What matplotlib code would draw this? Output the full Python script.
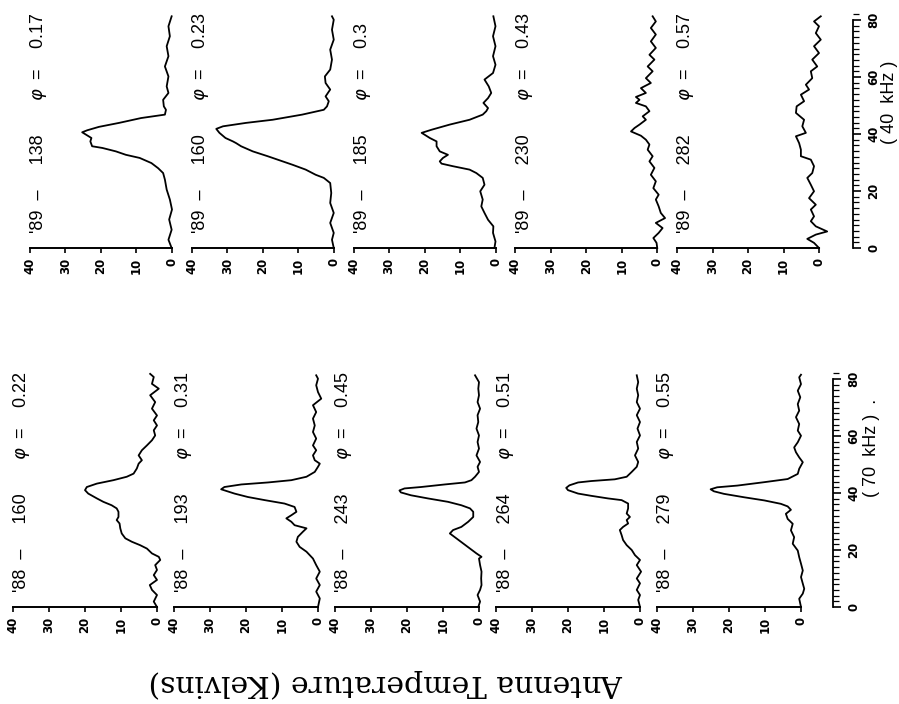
import matplotlib
matplotlib.use('Agg')
import matplotlib.pyplot as plt
from matplotlib.ticker import MultipleLocator

# ---- data: frequency (channel) vs antenna temperature (K) ----
# 1989 row (top)
f89_138 = [0, 2.9, 6.4, 10, 13.5, 17, 20.5, 24, 26.3, 28, 29.8, 31.6, 32.7, 33.9, 35.1, 35.7, 37.4, 38.6,
           40.6, 41.3, 42.5, 43.9, 45.6, 46.8, 48.5, 49.7, 52, 54.4, 56.7, 60.2, 63.7, 67.3, 70.8, 74.3, 77.8, 81.3]
t89_138 = [0.1, 1, 0.1, 0.8, 0, 0.6, 1.5, 2, 2.5, 3.9, 5.8, 9.1, 13, 15.8, 19.6, 22.5, 23, 22.7,
           25.3, 23.9, 20.6, 14.9, 8.7, 2, 1.7, 2.3, 2.5, 1, 1.5, 1, 2, 1, 1.5, 0.6, 1, 0.1]

f89_160 = [0, 2.9, 5.3, 8.8, 12.3, 15.8, 19.3, 22.8, 24.6, 25.7, 27.5, 29.2, 30.4, 32.2, 33.9, 35.7, 36.8, 37.4,
           38.6, 40.4, 41.8, 42.7, 43.9, 45.0, 46.8, 48.5, 49.7, 51.5, 53.2, 55.6, 57.9, 60.2, 62.6, 66.1, 69.6,
           73.1, 76.6, 80.1, 81.3]
t89_160 = [0, 0.5, 0, 1, 0, 1, 0.7, 1, 2.8, 5.1, 7.9, 11.6, 14.4, 18.6, 22.8, 26.1, 27.5, 28.4,
           30.5, 32.2, 33.1, 31.2, 24.7, 17.2, 8.9, 2.8, 1.9, 1.4, 2.3, 1, 2.3, 2.5, 1, 0.5, 1,
           0, 0.5, 0, 0.5]

f89_185 = [0, 2.3, 5.3, 7.6, 9.9, 12.3, 14.6, 17, 19.9, 22.2, 24.6, 26.3, 27.5, 28.7, 29.6, 30.4, 31.6, 32.7,
           33.9, 35.7, 37.4, 38.6, 40.4, 41.5, 43.3, 45, 46.8, 48, 49.1, 50.9, 52.6, 54.4, 56.7, 59.1, 61.4,
           64.3, 67.3, 70.8, 74.3, 77.8, 81.3]
t89_185 = [0.3, 0, 0.7, 0.6, 2.1, 3.1, 4, 3.6, 4.3, 3.1, 3.6, 5.4, 7.3, 12, 15.2, 15.7, 14.8, 13.4,
           15.7, 16.6, 16.6, 18.5, 20.8, 18, 12.9, 7.3, 3.6, 2.6, 2.1, 3.4, 2.1, 1.2, 1.9, 3.1, 0.7,
           0, 0.7, 0, 0.7, 0, 0.6]

f89_230 = [0, 1.8, 3.5, 5.3, 7, 8.8, 10.5, 12.3, 14.6, 17, 18.7, 21, 23.4, 25.7, 28.1, 30.4, 32.2, 34.5,
           36.3, 38, 39.4, 40.9, 42.1, 43.3, 45, 46.2, 48, 49.7, 50.9, 52, 53, 54.4, 56.1, 57.9, 59.6, 62,
           63.7, 66.1, 67.8, 70.2, 72.5, 74.9, 77.2, 79.5, 81.3]
t89_230 = [0, 0.2, 1.1, -0.4, -1.5, 0.4, -2.2, -1, -0.4, 0.4, -0.4, 1.1, 0.4, 1.8, 0.8, 2.2, 1.3, 2.7,
           2.2, 3.2, 4.6, 7.4, 6.4, 5, 3.2, 4.1, 2.2, 3.2, 6, 5, 6, 3.2, 4.6, 1.8, 3.2, 1.3,
           2.7, 0.8, 2.2, 0.4, 1.8, 0.4, 1.8, 0.4, 1.3]

f89_282 = [0, 1.8, 3.2, 4.7, 5.8, 7.6, 9.4, 11.1, 13.5, 15.2, 17.5, 19.9, 22.2, 24.6, 26.3, 28.7, 31, 32.2,
           34.5, 36.8, 39.2, 40.4, 42.7, 45, 47.4, 49.7, 51.5, 53.8, 55.6, 57.3, 59.6, 62, 63.7, 66.1, 68.4,
           70.8, 73.1, 75.4, 77.8, 79.5, 81.3]
t89_282 = [0, 1.4, 3.3, 0.9, -2.3, 0.9, 2.3, 1.4, 2.3, 0.9, 2.8, 1.4, 2.3, 3.3, 1.9, 1.4, 2.3, 5.1,
           5.1, 5.6, 6.5, 3.7, 4.7, 4.2, 6.5, 6.3, 4.2, 5.1, 2.8, 3.7, 1.9, 2.3, 0.5, 1.9, 0,
           1.4, -0.5, 0.9, 0, 1.4, -0.5]

# 1988 row (bottom)
f88_160 = [0, 1.9, 4.2, 6, 7.7, 9.5, 11.2, 13, 14.7, 16.5, 17.6, 18.8, 20.5, 21.7, 22.9, 24.1, 25.8, 27.6,
           29.3, 30.5, 31.6, 33.4, 34.6, 35.7, 36.9, 38.1, 39.8, 41, 42.1, 43.3, 44.5, 45.7, 46.8, 48.6, 50.3,
           51.5, 53.2, 55, 56.7, 58.5, 60.2, 62, 63.7, 65.5, 67.2, 69.6, 71.9, 74.3, 76.6, 78.3, 80.7, 81.8]
t88_160 = [0, 0.9, 0, 1.4, 2, 0, 0.9, 0, 0.5, -0.9, -0.5, 1.4, 2.8, 4.7, 7, 8.8, 9.8, 10.2,
           10.4, 11.2, 10.7, 10.7, 11.2, 12.6, 14.9, 16.7, 19.1, 20, 19.5, 16.7, 12.1, 8.4, 6.5, 5.6, 5.1,
           4.2, 5.1, 4.2, 2.8, 1.4, 0.5, 0.9, 0, 0.9, 0, 1.4, 0.5, 1.9, -0.5, 1.4, 0.9, 1.9]

f88_193 = [0, 3, 5.4, 7.7, 10, 12.4, 14.7, 17, 19.4, 21.1, 22.9, 24.6, 26.4, 27.6, 28.7, 29.9, 31.1, 32.2,
           33.4, 35.1, 36.3, 37.5, 38.6, 39.8, 41.3, 42.1, 43, 43.7, 44.5, 45.7, 47.4, 49.2, 50.3, 51.5, 53.2,
           55, 56.7, 59.1, 61.4, 63.7, 66.1, 68.4, 70.8, 73.1, 75.4, 77.8, 80.1, 81.3]
t88_193 = [0, -0.5, 0.5, -0.5, 0.5, -0.5, 0.5, 1.4, 3.2, 5.1, 6, 5.6, 4.2, 3.2, 6.5, 7.4, 8.8, 7.4,
           6, 6.5, 9.3, 14.8, 19.5, 23.2, 26.9, 26, 21.3, 13.9, 7.4, 3.2, 0.9, 0, -0.5, 0.9, 1.4,
           0.5, 1.4, 0.5, 1.4, 0.9, 1.4, 0.5, 1.4, -0.9, 0, 0.5, 0, 0.5]

f88_243 = [0, 1.9, 4.2, 6, 7.7, 10, 12.4, 14.7, 17, 17.6, 18.8, 20.5, 22.3, 24.1, 25.8, 27, 28.1, 29.9,
           31.6, 33.4, 34.6, 35.7, 36.9, 38.1, 39.2, 40.2, 40.9, 41.6, 42.1, 43, 43.7, 44.5, 45.7, 47.4, 49.2,
           50.9, 53.2, 55.6, 57.9, 60.2, 62.6, 64.9, 67.3, 69.6, 71.9, 74.3, 76.6, 78.9, 81.3]
t88_243 = [0.2, -0.3, 0.4, -0.3, -0.7, -0.6, -0.7, -0.3, 0, -0.7, 0.7, 2.5, 4.4, 6.3, 8.1, 7.2, 4.9, 3,
           1.6, 1.6, 2.5, 4.9, 8.6, 14.2, 18.9, 21.7, 22.1, 20.7, 16.1, 9.5, 3.9, 2.1, 1.1, 0, 0.4,
           -0.3, 0.7, 0, 0.4, 0, 0.7, 0.2, 0.4, -0.3, 0.4, 0, 0.2, 0, 1.1]

f88_264 = [0, 2.5, 4.2, 6, 8.3, 10, 12.4, 14.7, 16.5, 18.2, 20, 21.7, 23.5, 25.2, 27, 28.1, 29.3, 30.5,
           31.6, 32.8, 34.6, 36.3, 37.5, 38.1, 39, 39.8, 41, 41.8, 42.7, 43.7, 44.2, 44.8, 45.7, 47.4, 49.2,
           50.9, 53.2, 55.6, 57.9, 60.2, 62.6, 64.9, 67.3, 69.6, 71.9, 74.3, 76.6, 78.9, 81.3]
t88_264 = [0, 0.5, 0, 0.9, 0, 0.9, -0.3, 0.9, 0, 1.4, 2.3, 3.7, 4.7, 5.1, 5.6, 4.7, 3.3, 3.7,
           2.8, 3.7, 3.3, 3.3, 5.1, 8.9, 13.5, 17.2, 20, 20.5, 19.6, 17.2, 13.5, 7, 3.7, 2.3, 0.9,
           0.5, 1.4, 0.5, 0.9, 0, 0.7, 0, 0.9, 0, 0.9, 0.5, 0.9, 0.5, 0.9]

f88_279 = [0, 2.9, 4.7, 6.4, 8.2, 10.5, 12.8, 15.2, 17.5, 19.8, 22.2, 24.5, 26.9, 29.2, 30.9, 32.7, 34.1, 35.3,
           36.2, 37.4, 38.5, 39.7, 40.6, 41.3, 42, 42.6, 43.8, 44.9, 46.7, 48.5, 50.8, 52.5, 54.3, 56, 57.8,
           60.1, 61.9, 64.2, 66.6, 68.9, 71.2, 73.6, 75.9, 78.2, 80.6, 81.5]
t88_279 = [0, 0.5, -0.5, -0.9, -0.5, 0, -0.5, 0, 0.5, 0.9, 2.3, 1.9, 2.8, 2.3, 3.7, 4.2, 2.8, 3.7,
           5.6, 10.2, 15.8, 21.4, 24.2, 25.1, 23.3, 17.7, 10.2, 3.7, 0.9, 0.5, -0.5, 0.5, 1.4, 1.9, 0.9,
           0, 0.9, 0.5, 1.4, 0.5, 0.9, 0.2, 0.9, 0, 0.5, 0]

years_89 = ["'89"] * 5
days_89 = ["138", "160", "185", "230", "282"]
phases_89 = ["0.17", "0.23", "0.3", "0.43", "0.57"]
years_88 = ["'88"] * 5
days_88 = ["160", "193", "243", "264", "279"]
phases_88 = ["0.22", "0.31", "0.45", "0.51", "0.55"]
temp_ticks = [0, 10, 20, 30, 40]
freq_ticks = [0, 20, 40, 60, 80]

curves_89 = [(f89_138, t89_138), (f89_160, t89_160), (f89_185, t89_185), (f89_230, t89_230), (f89_282, t89_282)]
curves_88 = [(f88_160, t88_160), (f88_193, t88_193), (f88_243, t88_243), (f88_264, t88_264), (f88_279, t88_279)]

# ---- layout (the page is turned a quarter: temperature runs right->left, frequency upward) ----
W, H = 899, 704
fig = plt.figure(figsize=(W / 100, H / 100), dpi=100)
PX = 2.85      # pixels per frequency unit
FMAX = 83
LABFONT = dict(rotation=90, ha='center', va='bottom', fontsize=13, family='Liberation Sans')


def px_axes(x, ybase, w):
    h = FMAX * PX
    return fig.add_axes([x / W, 1 - ybase / H, w / W, h / H])


def panel(x, ybase, w, f, t, yr, day, ph):
    ax = px_axes(x, ybase, w)
    ax.patch.set_alpha(0)
    ax.plot(t, f, color='black', lw=1.3, clip_on=False)
    ax.set_xlim(40, 0)
    ax.set_ylim(0, FMAX)
    for s in ['top', 'left', 'right']:
        ax.spines[s].set_visible(False)
    ax.spines['bottom'].set_linewidth(1.4)
    ax.set_yticks([])
    ax.set_xticks(temp_ticks)
    ax.tick_params(axis='x', direction='out', length=3.6, width=1.2, pad=3.2)
    plt.setp(ax.get_xticklabels(), rotation=90, fontweight='bold', fontsize=8.5)
    ax.text(37.5, 5.2, yr + '  \u2013     ' + day, **LABFONT)
    ax.text(37.5, 51.5, r'$\varphi$  =    ' + ph, **LABFONT)
    return ax


def ruler(xline, ybase):
    ax = px_axes(xline - 10, ybase, 10)
    ax.patch.set_alpha(0)
    for s in ['top', 'left', 'bottom']:
        ax.spines[s].set_visible(False)
    ax.spines['right'].set_bounds(0, 80)
    ax.spines['right'].set_linewidth(1.3)
    ax.set_ylim(0, FMAX)
    ax.set_xticks([])
    ax.yaxis.tick_right()
    ax.set_yticks(freq_ticks)
    ax.yaxis.set_minor_locator(MultipleLocator(2))
    ax.tick_params(axis='y', which='major', direction='out', length=5.5, width=1.2, pad=5)
    ax.tick_params(axis='y', which='minor', direction='out', length=4.5, width=0.9)
    plt.setp(ax.get_yticklabels(), rotation=90, va='center', ha='left', fontweight='bold', fontsize=8.5)
    return ax


for i, (f, t) in enumerate(curves_89):
    panel(30 + 161.75 * i, 248, 142, f, t, years_89[i], days_89[i], phases_89[i])
for i, (f, t) in enumerate(curves_88):
    panel(13 + 161 * i, 607, 144, f, t, years_88[i], days_88[i], phases_88[i])

ruler(853, 248)
ruler(833, 607)

fig.text(890 / W, 1 - 102 / H, '( 40  kHz )', rotation=90, ha='center', va='center',
         fontsize=13, family='Liberation Sans')
fig.text(872 / W, 1 - 448 / H, '( 70  kHz )  .', rotation=90, ha='center', va='center',
         fontsize=13, family='Liberation Sans')
fig.text(386 / W, 1 - 683 / H, 'Antenna Temperature (Kelvins)', rotation=180, ha='center', va='center',
         fontsize=21.5, family='DejaVu Serif')

fig.savefig('out.png', dpi=100)
